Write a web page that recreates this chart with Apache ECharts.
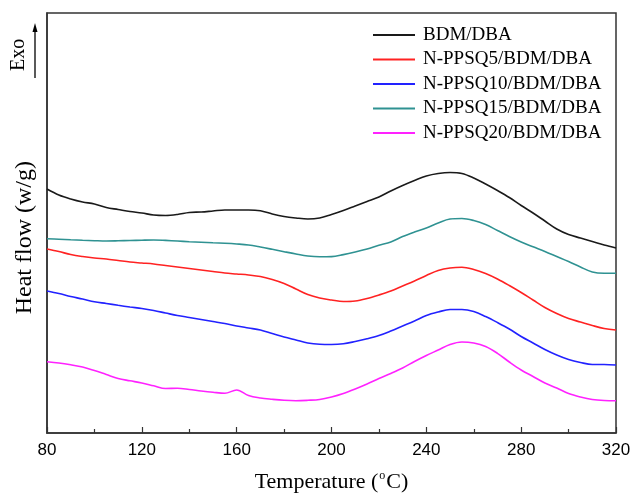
<!DOCTYPE html>
<html>
<head>
<meta charset="utf-8">
<script src="https://cdn.jsdelivr.net/npm/echarts@6/dist/echarts.min.js"></script>
<style>
html,body{margin:0;padding:0;background:#fff;}
#chart{width:633px;height:494px;}
</style>
</head>
<body>
<div id="chart"></div>
<script>
// Temperature (°C)
var temps = [80,85,90,95,100,105,110,115,120,125,130,135,140,145,150,155,160,165,170,175,180,185,190,195,200,205,210,215,220,225,230,235,240,245,250,255,260,265,270,275,280,285,290,295,300,305,310,315,320];

// Heat flow (arbitrary offset units, curves stacked)
var bdmDba = [244,238,234,231,229,225.5,223.5,221.5,220,218,217.5,218.5,220.5,221,222,223,223,223,222.2,219,216.5,215,214,215,218.5,222.5,227,231.5,236,242,247.5,252.5,257,259.5,260.5,259.5,255,249,242.5,235.5,227.5,220,212,204,198.5,195,191.5,188,185];
var ppsq5 = [184,181.5,178.5,176.5,175,174,172.5,171,170,169,167.5,166,164.5,163,161.5,160,159,158,156.5,153.5,149.5,144,138.5,135,133,131.5,132,134.5,138,142,147,152,157.5,162.5,165,165.7,163.5,159.5,154,147.5,140.5,133,125.5,119.5,114.5,111,107.5,104.5,103];
var ppsq10 = [142,139.5,136.5,134,131.2,129.5,127.7,126,124.5,122.5,120,117.5,115.5,113.5,111.5,109.5,107,105,103,99.5,96,93,90,88.7,88.5,89.2,91.5,94.2,97.5,102,107,112,117.5,121,123.5,123.5,121.5,116.5,110.5,104,96.5,90,83.5,78,73.5,70.5,68.5,68.5,68];
var ppsq15 = [194.3,193.8,193.2,192.7,192.3,192,192.2,192.5,192.8,193,192.6,192,191.3,190.8,190.2,189.7,189,188,186,183.7,181.3,179,177,176.2,176.4,178.4,181,184,187.7,191,196.5,201,205,210,214,214.5,212.5,208.5,202.5,196.5,191,186.2,181.5,176.5,171.5,166,161,159.7,159.7];
var ppsq20 = [71.3,70,68.2,66,62.5,58.5,54.5,52.2,50,47.2,44.5,44.7,43.5,42,40.7,39.7,43,37.5,35,33.7,32.7,32.3,32.7,33.5,36,39.5,44,49,54.5,59.5,65,71.5,77.5,83,88.5,91,90,86.5,79.7,71,63,56.5,50,45,39.5,36,33.5,32.5,32.3];

var seriesNames = ['BDM/DBA','N-PPSQ5/BDM/DBA','N-PPSQ10/BDM/DBA','N-PPSQ15/BDM/DBA','N-PPSQ20/BDM/DBA'];
var seriesValues = [bdmDba, ppsq5, ppsq10, ppsq15, ppsq20];
var seriesColors = ['#1a1a1a','#ff2222','#2222ff','#2f9292','#ff22ff'];

var chart = echarts.init(document.getElementById('chart'));
var serif = '"Liberation Serif","Times New Roman",serif';
var sans = '"Liberation Sans",Arial,sans-serif';

var series = seriesNames.map(function(n, k){
  return {
    name: n,
    type: 'line',
    symbol: 'none',
    smooth: 0.35,
    lineStyle: {color: seriesColors[k], width: 1.6},
    itemStyle: {color: seriesColors[k]},
    data: temps.map(function(t, i){ return [t, seriesValues[k][i]]; })
  };
});

chart.setOption({
  backgroundColor: '#fff',
  animation: false,
  grid: {left: 47, right: 17, top: 13, bottom: 61, outerBoundsMode: 'none', containLabel: false,
         show: true, borderColor: '#333', borderWidth: 1.5, backgroundColor: 'transparent'},
  legend: {
    orient: 'vertical',
    left: 373, top: 25, padding: 0,
    icon: 'rect',
    itemWidth: 42, itemHeight: 2, itemGap: 4.5,
    textStyle: {fontFamily: serif, fontSize: 19, color: '#000', lineHeight: 20, padding: [0,0,0,3]},
    data: seriesNames
  },
  xAxis: {
    type: 'value', min: 80, max: 320, interval: 40,
    name: '{a|Temperature (}{b|o}{a|C)}',
    nameLocation: 'middle', nameGap: 37,
    nameTextStyle: {
      rich: {
        a: {fontFamily: serif, fontSize: 22, color: '#000', lineHeight: 24},
        b: {fontFamily: serif, fontSize: 12, color: '#000', verticalAlign: 'top', lineHeight: 24, padding: [0,1,0,1]}
      }
    },
    axisLine: {show: true, lineStyle: {color: '#333', width: 1.5}},
    axisTick: {show: true, inside: true, length: 6, lineStyle: {color: '#333', width: 1.2}},
    minorTick: {show: true, splitNumber: 2, length: 4, lineStyle: {color: '#333', width: 1.2}},
    axisLabel: {fontFamily: sans, fontSize: 17, color: '#000', margin: 9},
    splitLine: {show: false}
  },
  yAxis: {
    type: 'value', min: 0, max: 420,
    axisLine: {show: true, lineStyle: {color: '#333', width: 1.5}},
    axisTick: {show: false},
    axisLabel: {show: false},
    splitLine: {show: false}
  },
  graphic: [
    {type: 'text', left: 13, top: 161, rotation: Math.PI/2,
     style: {text: 'Heat flow (w/g)', font: '24px ' + serif, fill: '#000'}},
    {type: 'text', rotation: Math.PI/2, x: 9, y: 71,
     style: {text: 'Exo', font: '20px ' + serif, fill: '#000', textVerticalAlign: 'top'}},
    {type: 'line', shape: {x1: 35, y1: 78, x2: 35, y2: 28}, style: {stroke: '#000', lineWidth: 1.3}},
    {type: 'polygon', shape: {points: [[32.5, 32],[37.5, 32],[35, 23]]}, style: {fill: '#000'}}
  ],
  series: series
});
</script>
</body>
</html>
